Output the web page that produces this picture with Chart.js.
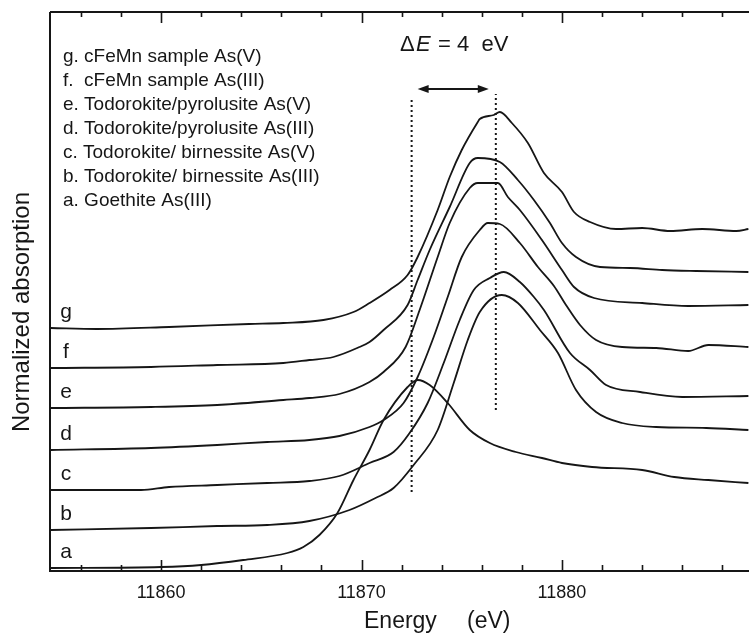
<!DOCTYPE html>
<html>
<head>
<meta charset="utf-8">
<script src="https://cdn.jsdelivr.net/npm/chart.js@4/dist/chart.umd.min.js"></script>
<style>
  html, body { margin: 0; padding: 0; background: #ffffff; }
  #wrap { width: 749px; height: 633px; }
</style>
</head>
<body>
<div id="wrap"><canvas id="c" width="749" height="633"></canvas></div>
<script>
// ---- data (energy in eV, normalized absorption with vertical stacking offsets as read) ----
const energyG = [11854.5, 11856.8, 11860.4, 11864.4, 11866.1, 11868.1, 11869.6, 11870.4, 11871.4, 11872.3, 11872.8, 11873.8, 11874.4, 11875.0, 11875.8, 11875.9, 11876.6, 11876.9, 11877.5, 11878.3, 11879.1, 11880.0, 11880.6, 11881.4, 11882.7, 11884.0, 11885.4, 11887.0, 11888.7, 11889.3];
const absG    = [2.43, 2.42, 2.44, 2.47, 2.48, 2.51, 2.59, 2.68, 2.81, 2.96, 3.14, 3.61, 3.94, 4.21, 4.49, 4.52, 4.56, 4.59, 4.48, 4.28, 3.98, 3.79, 3.59, 3.49, 3.42, 3.43, 3.40, 3.42, 3.40, 3.42];

const energyF = [11854.5, 11859.5, 11862.8, 11866.1, 11867.4, 11868.6, 11869.9, 11870.4, 11871.1, 11872.3, 11872.8, 11873.4, 11874.4, 11875.4, 11875.8, 11876.9, 11877.8, 11878.6, 11879.4, 11880.0, 11880.7, 11881.9, 11883.4, 11885.0, 11886.7, 11889.3];
const absF    = [2.03, 2.04, 2.06, 2.08, 2.11, 2.14, 2.24, 2.29, 2.41, 2.66, 2.91, 3.21, 3.64, 4.08, 4.13, 4.09, 3.91, 3.71, 3.48, 3.28, 3.14, 3.04, 3.03, 3.01, 3.00, 2.99];

const energyE = [11854.5, 11859.5, 11862.8, 11866.1, 11867.4, 11868.9, 11870.4, 11871.1, 11872.2, 11872.9, 11873.8, 11874.4, 11875.4, 11875.8, 11876.8, 11877.3, 11877.9, 11879.0, 11880.0, 11880.6, 11881.6, 11884.0, 11886.3, 11889.3];
const absE    = [1.63, 1.64, 1.66, 1.71, 1.73, 1.77, 1.89, 1.99, 2.24, 2.61, 3.14, 3.48, 3.83, 3.88, 3.88, 3.74, 3.61, 3.31, 3.01, 2.84, 2.73, 2.68, 2.65, 2.66];

const energyD = [11854.5, 11859.5, 11862.8, 11865.3, 11867.4, 11868.9, 11870.4, 11871.1, 11872.1, 11872.8, 11873.6, 11874.3, 11875.0, 11875.9, 11876.3, 11876.9, 11877.9, 11878.8, 11879.6, 11880.2, 11880.9, 11881.7, 11883.0, 11884.7, 11886.3, 11887.3, 11889.3];
const absD    = [1.21, 1.23, 1.26, 1.29, 1.31, 1.35, 1.44, 1.51, 1.68, 1.94, 2.34, 2.74, 3.14, 3.41, 3.48, 3.47, 3.28, 3.04, 2.85, 2.66, 2.46, 2.31, 2.24, 2.23, 2.20, 2.26, 2.24];

const energyC = [11854.5, 11859.0, 11860.4, 11862.8, 11865.3, 11867.4, 11868.9, 11870.4, 11871.6, 11872.4, 11873.3, 11874.1, 11874.9, 11875.6, 11876.4, 11877.1, 11877.9, 11878.6, 11879.1, 11880.4, 11881.4, 11882.2, 11883.9, 11886.0, 11889.3];
const absC    = [0.81, 0.81, 0.84, 0.86, 0.88, 0.90, 0.95, 1.08, 1.19, 1.38, 1.68, 2.08, 2.51, 2.81, 2.93, 2.99, 2.89, 2.74, 2.61, 2.18, 2.01, 1.86, 1.79, 1.74, 1.75];

const energyB = [11854.5, 11859.5, 11862.8, 11865.3, 11867.4, 11869.4, 11870.7, 11871.6, 11872.6, 11873.8, 11874.6, 11875.3, 11875.9, 11877.0, 11877.8, 11878.9, 11879.8, 11880.7, 11881.7, 11883.0, 11884.7, 11887.2, 11889.3];
const absB    = [0.41, 0.43, 0.45, 0.46, 0.50, 0.61, 0.73, 0.83, 1.06, 1.41, 1.88, 2.31, 2.59, 2.76, 2.68, 2.41, 2.18, 1.81, 1.59, 1.48, 1.44, 1.43, 1.41];

const energyA = [11854.5, 11860.0, 11862.0, 11864.1, 11866.3, 11867.1, 11867.9, 11868.8, 11869.6, 11870.4, 11871.1, 11872.3, 11872.8, 11873.4, 11874.3, 11875.4, 11876.4, 11877.7, 11879.0, 11880.0, 11881.5, 11884.0, 11885.6, 11887.3, 11889.3];
const absA    = [0.03, 0.04, 0.06, 0.11, 0.18, 0.24, 0.36, 0.58, 0.91, 1.21, 1.51, 1.84, 1.91, 1.86, 1.68, 1.41, 1.28, 1.19, 1.13, 1.08, 1.04, 1.01, 0.94, 0.91, 0.88];

const seriesLetters = ["a", "b", "c", "d", "e", "f", "g"];
const legendLines = [
  "g. cFeMn sample As(V)",
  "f.  cFeMn sample As(III)",
  "e. Todorokite/pyrolusite As(V)",
  "d. Todorokite/pyrolusite As(III)",
  "c. Todorokite/ birnessite As(V)",
  "b. Todorokite/ birnessite As(III)",
  "a. Goethite As(III)"
];
const majorTicks = [11860, 11870, 11880];
const minorTicks = [11856, 11858, 11862, 11864, 11866, 11868, 11872, 11874, 11876, 11878, 11882, 11884, 11886, 11888];
const edgeMarkers = [11872.5, 11876.7];          // dotted edge positions (eV)
const edgeMarkerTop = [4.74, 4.77];
const edgeMarkerBottom = [0.79, 1.61];
const deltaArrow = [11872.8, 11876.35];          // ΔE arrow ends (eV)
const deltaArrowY = 4.82;
const xRange = [11854.46, 11889.33];
const yRange = [0, 5.59];

// ---- build datasets ----
function pts(xs, ys) { return xs.map((x, i) => ({ x: x, y: ys[i] })); }
const INK = "#161616";
const curves = [
  pts(energyA, absA), pts(energyB, absB), pts(energyC, absC), pts(energyD, absD),
  pts(energyE, absE), pts(energyF, absF), pts(energyG, absG)
];
const datasets = curves.map((d, i) => ({
  label: seriesLetters[i],
  data: d,
  borderColor: INK,
  borderWidth: 1.8,
  pointRadius: 0,
  fill: false,
  cubicInterpolationMode: "monotone"
}));
edgeMarkers.forEach((e, i) => {
  datasets.push({
    label: "edge" + i,
    data: [{ x: e, y: edgeMarkerBottom[i] }, { x: e, y: edgeMarkerTop[i] }],
    borderColor: INK,
    borderWidth: 2,
    borderDash: [2, 3],
    pointRadius: 0,
    fill: false
  });
});

const FONT = "'Liberation Sans', Arial, Helvetica, sans-serif";

const decor = {
  id: "decor",
  afterDraw(chart) {
    const ctx = chart.ctx;
    const xs = chart.scales.x, ys = chart.scales.y;
    const a = chart.chartArea;
    ctx.save();
    ctx.strokeStyle = INK;
    ctx.fillStyle = INK;

    // frame: left, top, bottom
    ctx.lineWidth = 2;
    ctx.beginPath();
    ctx.moveTo(a.left, a.top); ctx.lineTo(a.right, a.top);
    ctx.moveTo(a.left, a.top); ctx.lineTo(a.left, a.bottom);
    ctx.moveTo(a.left - 1, a.bottom); ctx.lineTo(a.right, a.bottom);
    ctx.stroke();

    // ticks (inward)
    ctx.lineWidth = 1.6;
    ctx.beginPath();
    majorTicks.forEach(v => {
      const p = Math.round(xs.getPixelForValue(v)) + 0.5;
      ctx.moveTo(p, a.bottom); ctx.lineTo(p, a.bottom - 11);
      ctx.moveTo(p, a.top); ctx.lineTo(p, a.top + 11);
    });
    minorTicks.forEach(v => {
      const p = Math.round(xs.getPixelForValue(v)) + 0.5;
      ctx.moveTo(p, a.bottom); ctx.lineTo(p, a.bottom - 6);
      ctx.moveTo(p, a.top); ctx.lineTo(p, a.top + 5);
    });
    ctx.stroke();

    // tick labels
    ctx.font = "18px " + FONT;
    ctx.textAlign = "center";
    ctx.textBaseline = "middle";
    majorTicks.forEach(v => {
      ctx.fillText(String(v), xs.getPixelForValue(v), 593);
    });

    // x title
    ctx.font = "23px " + FONT;
    ctx.textAlign = "left";
    ctx.fillText("Energy", 364, 622);
    ctx.fillText("(eV)", 467, 622);

    // y title
    ctx.save();
    ctx.translate(22, 312);
    ctx.rotate(-Math.PI / 2);
    ctx.font = "24px " + FONT;
    ctx.textAlign = "center";
    ctx.fillText("Normalized absorption", 0, 0);
    ctx.restore();

    // legend text
    ctx.font = "19px " + FONT;
    ctx.textAlign = "left";
    legendLines.forEach((t, i) => {
      ctx.fillText(t, 63, 57 + i * 24);
    });

    // curve letters at left
    ctx.font = "21px " + FONT;
    ctx.textAlign = "center";
    seriesLetters.forEach((s, i) => {
      const base = curves[i][0].y;
      ctx.fillText(s, 66, ys.getPixelForValue(base) - 16);
    });

    // ΔE label
    ctx.textAlign = "left";
    ctx.font = "22px " + FONT;
    ctx.fillText("\u0394", 400, 45);
    ctx.font = "italic 22px " + FONT;
    ctx.fillText("E", 416, 45);
    ctx.font = "22px " + FONT;
    ctx.fillText("= 4  eV", 438, 45);

    // ΔE arrow
    const x1 = xs.getPixelForValue(deltaArrow[0]);
    const x2 = xs.getPixelForValue(deltaArrow[1]);
    const yA = ys.getPixelForValue(deltaArrowY);
    ctx.lineWidth = 1.8;
    ctx.beginPath();
    ctx.moveTo(x1 + 4, yA); ctx.lineTo(x2 - 4, yA);
    ctx.stroke();
    ctx.beginPath();
    ctx.moveTo(x1, yA); ctx.lineTo(x1 + 11, yA - 4); ctx.lineTo(x1 + 11, yA + 4); ctx.closePath();
    ctx.moveTo(x2, yA); ctx.lineTo(x2 - 11, yA - 4); ctx.lineTo(x2 - 11, yA + 4); ctx.closePath();
    ctx.fill();

    ctx.restore();
  }
};

new Chart(document.getElementById("c"), {
  type: "line",
  data: { datasets: datasets },
  options: {
    responsive: false,
    animation: false,
    events: [],
    layout: { padding: { left: 50, top: 12, right: 0, bottom: 62 } },
    plugins: { legend: { display: false }, tooltip: { enabled: false }, title: { display: false } },
    scales: {
      x: { type: "linear", min: xRange[0], max: xRange[1], display: false },
      y: { type: "linear", min: yRange[0], max: yRange[1], display: false }
    }
  },
  plugins: [decor]
});
</script>
</body>
</html>
